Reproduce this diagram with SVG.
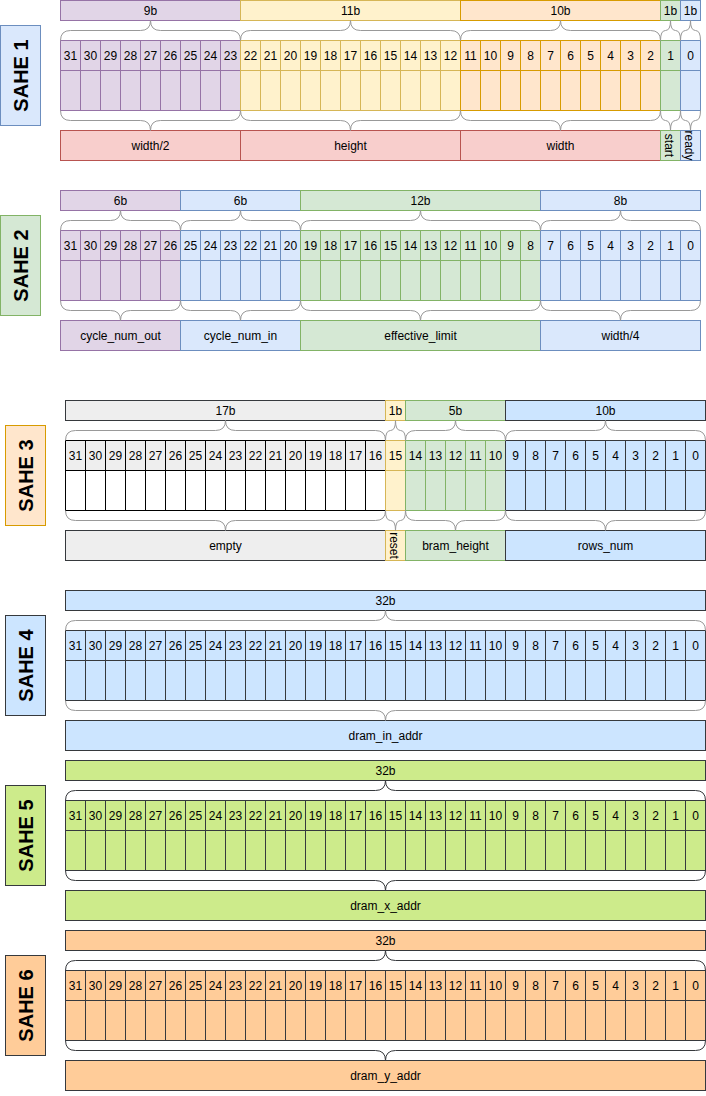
<svg xmlns="http://www.w3.org/2000/svg" width="706" height="1096" viewBox="0 0 706 1096">
<style>
.t{font-family:"Liberation Sans",Arial,Helvetica,sans-serif;font-size:12px;fill:#000;text-anchor:middle}
.lbl{font-family:"Liberation Sans",Arial,Helvetica,sans-serif;font-size:20px;font-weight:bold;fill:#000;text-anchor:middle}
.br{fill:none;stroke:#999999;stroke-width:1}
.brd{fill:none;stroke:#36393d;stroke-width:1}
.pu{fill:#e1d5e7;stroke:#9673a6}
.ye{fill:#fff2cc;stroke:#d6b656}
.or{fill:#ffe6cc;stroke:#d79b00}
.gr{fill:#d5e8d4;stroke:#82b366}
.bl{fill:#dae8fc;stroke:#6c8ebf}
.re{fill:#f8cecc;stroke:#b85450}
.gy{fill:#eeeeee;stroke:#36393d}
.gk{fill:#eeeeee;stroke:#000000}
.wh{fill:#ffffff;stroke:#000000}
.lb{fill:#cce5ff;stroke:#36393d}
.lg{fill:#cdeb8b;stroke:#36393d}
.pe{fill:#ffcc99;stroke:#36393d}
.ln{fill:none}
</style>
<g transform="translate(0.5,0.5)">

<!-- ================= SAHE 1 ================= -->
<g id="sahe1">
  <g id="sahe1-label">
    <rect class="bl" x="0" y="25" width="40" height="100"/>
    <text class="lbl" x="20" y="82" transform="rotate(-90 20 75)">SAHE 1</text>
  </g>
  <g id="sahe1-header">
    <rect class="pu" x="60" y="0" width="180" height="20"/>
    <rect class="ye" x="240" y="0" width="220" height="20"/>
    <rect class="or" x="460" y="0" width="200" height="20"/>
    <rect class="gr" x="660" y="0" width="20" height="20"/>
    <rect class="bl" x="680" y="0" width="20" height="20"/>
    <text class="t" x="150" y="14">9b</text>
    <text class="t" x="350" y="14">11b</text>
    <text class="t" x="560" y="14">10b</text>
    <text class="t" x="670" y="14">1b</text>
    <text class="t" x="690" y="14">1b</text>
  </g>
  <g id="sahe1-bits">
    <rect class="pu" x="60" y="40" width="180" height="30"/>
    <rect class="pu" x="60" y="70" width="180" height="40"/>
    <path class="pu ln" d="M80 40V110M100 40V110M120 40V110M140 40V110M160 40V110M180 40V110M200 40V110M220 40V110"/>
    <rect class="ye" x="240" y="40" width="220" height="30"/>
    <rect class="ye" x="240" y="70" width="220" height="40"/>
    <path class="ye ln" d="M260 40V110M280 40V110M300 40V110M320 40V110M340 40V110M360 40V110M380 40V110M400 40V110M420 40V110M440 40V110"/>
    <rect class="or" x="460" y="40" width="200" height="30"/>
    <rect class="or" x="460" y="70" width="200" height="40"/>
    <path class="or ln" d="M480 40V110M500 40V110M520 40V110M540 40V110M560 40V110M580 40V110M600 40V110M620 40V110M640 40V110"/>
    <rect class="gr" x="660" y="40" width="20" height="30"/>
    <rect class="gr" x="660" y="70" width="20" height="40"/>
    <rect class="bl" x="680" y="40" width="20" height="30"/>
    <rect class="bl" x="680" y="70" width="20" height="40"/>
    <text class="t" y="59"><tspan x="70">31</tspan><tspan x="90">30</tspan><tspan x="110">29</tspan><tspan x="130">28</tspan><tspan x="150">27</tspan><tspan x="170">26</tspan><tspan x="190">25</tspan><tspan x="210">24</tspan><tspan x="230">23</tspan><tspan x="250">22</tspan><tspan x="270">21</tspan><tspan x="290">20</tspan><tspan x="310">19</tspan><tspan x="330">18</tspan><tspan x="350">17</tspan><tspan x="370">16</tspan><tspan x="390">15</tspan><tspan x="410">14</tspan><tspan x="430">13</tspan><tspan x="450">12</tspan><tspan x="470">11</tspan><tspan x="490">10</tspan><tspan x="510">9</tspan><tspan x="530">8</tspan><tspan x="550">7</tspan><tspan x="570">6</tspan><tspan x="590">5</tspan><tspan x="610">4</tspan><tspan x="630">3</tspan><tspan x="650">2</tspan><tspan x="670">1</tspan><tspan x="690">0</tspan></text>
  </g>
  <g id="sahe1-fields">
    <rect class="re" x="60" y="130" width="180" height="30"/>
    <rect class="re" x="240" y="130" width="220" height="30"/>
    <rect class="re" x="460" y="130" width="200" height="30"/>
    <rect class="gr" x="660" y="130" width="20" height="30"/>
    <rect class="bl" x="680" y="130" width="20" height="30"/>
    <text class="t" x="150" y="149">width/2</text>
    <text class="t" x="350" y="149">height</text>
    <text class="t" x="560" y="149">width</text>
    <text class="t" x="670" y="151" transform="rotate(90 670 145)">start</text>
    <text class="t" x="690" y="151" transform="rotate(90 690 145)">ready</text>
  </g>
</g>

<!-- ================= SAHE 2 ================= -->
<g id="sahe2">
  <g id="sahe2-label">
    <rect class="gr" x="0" y="215" width="40" height="100"/>
    <text class="lbl" x="20" y="272" transform="rotate(-90 20 265)">SAHE 2</text>
  </g>
  <g id="sahe2-header">
    <rect class="pu" x="60" y="190" width="120" height="20"/>
    <rect class="bl" x="180" y="190" width="120" height="20"/>
    <rect class="gr" x="300" y="190" width="240" height="20"/>
    <rect class="bl" x="540" y="190" width="160" height="20"/>
    <text class="t" x="120" y="204">6b</text>
    <text class="t" x="240" y="204">6b</text>
    <text class="t" x="420" y="204">12b</text>
    <text class="t" x="620" y="204">8b</text>
  </g>
  <g id="sahe2-bits">
    <rect class="pu" x="60" y="230" width="120" height="30"/>
    <rect class="pu" x="60" y="260" width="120" height="40"/>
    <path class="pu ln" d="M80 230V300M100 230V300M120 230V300M140 230V300M160 230V300"/>
    <rect class="bl" x="180" y="230" width="120" height="30"/>
    <rect class="bl" x="180" y="260" width="120" height="40"/>
    <path class="bl ln" d="M200 230V300M220 230V300M240 230V300M260 230V300M280 230V300"/>
    <rect class="gr" x="300" y="230" width="240" height="30"/>
    <rect class="gr" x="300" y="260" width="240" height="40"/>
    <path class="gr ln" d="M320 230V300M340 230V300M360 230V300M380 230V300M400 230V300M420 230V300M440 230V300M460 230V300M480 230V300M500 230V300M520 230V300"/>
    <rect class="bl" x="540" y="230" width="160" height="30"/>
    <rect class="bl" x="540" y="260" width="160" height="40"/>
    <path class="bl ln" d="M560 230V300M580 230V300M600 230V300M620 230V300M640 230V300M660 230V300M680 230V300"/>
    <text class="t" y="249"><tspan x="70">31</tspan><tspan x="90">30</tspan><tspan x="110">29</tspan><tspan x="130">28</tspan><tspan x="150">27</tspan><tspan x="170">26</tspan><tspan x="190">25</tspan><tspan x="210">24</tspan><tspan x="230">23</tspan><tspan x="250">22</tspan><tspan x="270">21</tspan><tspan x="290">20</tspan><tspan x="310">19</tspan><tspan x="330">18</tspan><tspan x="350">17</tspan><tspan x="370">16</tspan><tspan x="390">15</tspan><tspan x="410">14</tspan><tspan x="430">13</tspan><tspan x="450">12</tspan><tspan x="470">11</tspan><tspan x="490">10</tspan><tspan x="510">9</tspan><tspan x="530">8</tspan><tspan x="550">7</tspan><tspan x="570">6</tspan><tspan x="590">5</tspan><tspan x="610">4</tspan><tspan x="630">3</tspan><tspan x="650">2</tspan><tspan x="670">1</tspan><tspan x="690">0</tspan></text>
  </g>
  <g id="sahe2-fields">
    <rect class="pu" x="60" y="320" width="120" height="30"/>
    <rect class="bl" x="180" y="320" width="120" height="30"/>
    <rect class="gr" x="300" y="320" width="240" height="30"/>
    <rect class="bl" x="540" y="320" width="160" height="30"/>
    <text class="t" x="120" y="339">cycle_num_out</text>
    <text class="t" x="240" y="339">cycle_num_in</text>
    <text class="t" x="420" y="339">effective_limit</text>
    <text class="t" x="620" y="339">width/4</text>
  </g>
</g>

<!-- ================= SAHE 3 ================= -->
<g id="sahe3">
  <g id="sahe3-label">
    <rect class="or" x="5" y="425" width="40" height="100"/>
    <text class="lbl" x="25" y="482" transform="rotate(-90 25 475)">SAHE 3</text>
  </g>
  <g id="sahe3-header">
    <rect class="gy" x="65" y="400" width="320" height="20"/>
    <rect class="ye" x="385" y="400" width="20" height="20"/>
    <rect class="gr" x="405" y="400" width="100" height="20"/>
    <rect class="lb" x="505" y="400" width="200" height="20"/>
    <text class="t" x="225" y="414">17b</text>
    <text class="t" x="395" y="414">1b</text>
    <text class="t" x="455" y="414">5b</text>
    <text class="t" x="605" y="414">10b</text>
  </g>
  <g id="sahe3-bits">
    <rect class="gk" x="65" y="440" width="320" height="30"/>
    <rect class="wh" x="65" y="470" width="320" height="40"/>
    <path class="wh ln" d="M85 440V510M105 440V510M125 440V510M145 440V510M165 440V510M185 440V510M205 440V510M225 440V510M245 440V510M265 440V510M285 440V510M305 440V510M325 440V510M345 440V510M365 440V510"/>
    <rect class="ye" x="385" y="440" width="20" height="30"/>
    <rect class="ye" x="385" y="470" width="20" height="40"/>
    <rect class="gr" x="405" y="440" width="100" height="30"/>
    <rect class="gr" x="405" y="470" width="100" height="40"/>
    <path class="gr ln" d="M425 440V510M445 440V510M465 440V510M485 440V510"/>
    <rect class="lb" x="505" y="440" width="200" height="30"/>
    <rect class="lb" x="505" y="470" width="200" height="40"/>
    <path class="lb ln" d="M525 440V510M545 440V510M565 440V510M585 440V510M605 440V510M625 440V510M645 440V510M665 440V510M685 440V510"/>
    <text class="t" y="459"><tspan x="75">31</tspan><tspan x="95">30</tspan><tspan x="115">29</tspan><tspan x="135">28</tspan><tspan x="155">27</tspan><tspan x="175">26</tspan><tspan x="195">25</tspan><tspan x="215">24</tspan><tspan x="235">23</tspan><tspan x="255">22</tspan><tspan x="275">21</tspan><tspan x="295">20</tspan><tspan x="315">19</tspan><tspan x="335">18</tspan><tspan x="355">17</tspan><tspan x="375">16</tspan><tspan x="395">15</tspan><tspan x="415">14</tspan><tspan x="435">13</tspan><tspan x="455">12</tspan><tspan x="475">11</tspan><tspan x="495">10</tspan><tspan x="515">9</tspan><tspan x="535">8</tspan><tspan x="555">7</tspan><tspan x="575">6</tspan><tspan x="595">5</tspan><tspan x="615">4</tspan><tspan x="635">3</tspan><tspan x="655">2</tspan><tspan x="675">1</tspan><tspan x="695">0</tspan></text>
  </g>
  <g id="sahe3-fields">
    <rect class="gy" x="65" y="530" width="320" height="30"/>
    <rect class="ye" x="385" y="530" width="20" height="30"/>
    <rect class="gr" x="405" y="530" width="100" height="30"/>
    <rect class="lb" x="505" y="530" width="200" height="30"/>
    <text class="t" x="225" y="549">empty</text>
    <text class="t" x="395" y="551" transform="rotate(90 395 545)">reset</text>
    <text class="t" x="455" y="549">bram_height</text>
    <text class="t" x="605" y="549">rows_num</text>
  </g>
</g>

<!-- ================= SAHE 4 ================= -->
<g id="sahe4">
  <g id="sahe4-label">
    <rect class="lb" x="5" y="615" width="40" height="100"/>
    <text class="lbl" x="25" y="672" transform="rotate(-90 25 665)">SAHE 4</text>
  </g>
  <g id="sahe4-header">
    <rect class="lb" x="65" y="590" width="640" height="20"/>
    <text class="t" x="385" y="604">32b</text>
  </g>
  <g id="sahe4-bits">
    <rect class="lb" x="65" y="630" width="640" height="30"/>
    <rect class="lb" x="65" y="660" width="640" height="40"/>
    <path class="lb ln" d="M85 630V700M105 630V700M125 630V700M145 630V700M165 630V700M185 630V700M205 630V700M225 630V700M245 630V700M265 630V700M285 630V700M305 630V700M325 630V700M345 630V700M365 630V700M385 630V700M405 630V700M425 630V700M445 630V700M465 630V700M485 630V700M505 630V700M525 630V700M545 630V700M565 630V700M585 630V700M605 630V700M625 630V700M645 630V700M665 630V700M685 630V700"/>
    <text class="t" y="649"><tspan x="75">31</tspan><tspan x="95">30</tspan><tspan x="115">29</tspan><tspan x="135">28</tspan><tspan x="155">27</tspan><tspan x="175">26</tspan><tspan x="195">25</tspan><tspan x="215">24</tspan><tspan x="235">23</tspan><tspan x="255">22</tspan><tspan x="275">21</tspan><tspan x="295">20</tspan><tspan x="315">19</tspan><tspan x="335">18</tspan><tspan x="355">17</tspan><tspan x="375">16</tspan><tspan x="395">15</tspan><tspan x="415">14</tspan><tspan x="435">13</tspan><tspan x="455">12</tspan><tspan x="475">11</tspan><tspan x="495">10</tspan><tspan x="515">9</tspan><tspan x="535">8</tspan><tspan x="555">7</tspan><tspan x="575">6</tspan><tspan x="595">5</tspan><tspan x="615">4</tspan><tspan x="635">3</tspan><tspan x="655">2</tspan><tspan x="675">1</tspan><tspan x="695">0</tspan></text>
  </g>
  <g id="sahe4-fields">
    <rect class="lb" x="65" y="720" width="640" height="30"/>
    <text class="t" x="385" y="739">dram_in_addr</text>
  </g>
</g>

<!-- ================= SAHE 5 ================= -->
<g id="sahe5">
  <g id="sahe5-label">
    <rect class="lg" x="5" y="785" width="40" height="100"/>
    <text class="lbl" x="25" y="842" transform="rotate(-90 25 835)">SAHE 5</text>
  </g>
  <g id="sahe5-header">
    <rect class="lg" x="65" y="760" width="640" height="20"/>
    <text class="t" x="385" y="774">32b</text>
  </g>
  <g id="sahe5-bits">
    <rect class="lg" x="65" y="800" width="640" height="30"/>
    <rect class="lg" x="65" y="830" width="640" height="40"/>
    <path class="lg ln" d="M85 800V870M105 800V870M125 800V870M145 800V870M165 800V870M185 800V870M205 800V870M225 800V870M245 800V870M265 800V870M285 800V870M305 800V870M325 800V870M345 800V870M365 800V870M385 800V870M405 800V870M425 800V870M445 800V870M465 800V870M485 800V870M505 800V870M525 800V870M545 800V870M565 800V870M585 800V870M605 800V870M625 800V870M645 800V870M665 800V870M685 800V870"/>
    <text class="t" y="819"><tspan x="75">31</tspan><tspan x="95">30</tspan><tspan x="115">29</tspan><tspan x="135">28</tspan><tspan x="155">27</tspan><tspan x="175">26</tspan><tspan x="195">25</tspan><tspan x="215">24</tspan><tspan x="235">23</tspan><tspan x="255">22</tspan><tspan x="275">21</tspan><tspan x="295">20</tspan><tspan x="315">19</tspan><tspan x="335">18</tspan><tspan x="355">17</tspan><tspan x="375">16</tspan><tspan x="395">15</tspan><tspan x="415">14</tspan><tspan x="435">13</tspan><tspan x="455">12</tspan><tspan x="475">11</tspan><tspan x="495">10</tspan><tspan x="515">9</tspan><tspan x="535">8</tspan><tspan x="555">7</tspan><tspan x="575">6</tspan><tspan x="595">5</tspan><tspan x="615">4</tspan><tspan x="635">3</tspan><tspan x="655">2</tspan><tspan x="675">1</tspan><tspan x="695">0</tspan></text>
  </g>
  <g id="sahe5-fields">
    <rect class="lg" x="65" y="890" width="640" height="30"/>
    <text class="t" x="385" y="909">dram_x_addr</text>
  </g>
</g>

<!-- ================= SAHE 6 ================= -->
<g id="sahe6">
  <g id="sahe6-label">
    <rect class="pe" x="5" y="955" width="40" height="100"/>
    <text class="lbl" x="25" y="1012" transform="rotate(-90 25 1005)">SAHE 6</text>
  </g>
  <g id="sahe6-header">
    <rect class="pe" x="65" y="930" width="640" height="20"/>
    <text class="t" x="385" y="944">32b</text>
  </g>
  <g id="sahe6-bits">
    <rect class="pe" x="65" y="970" width="640" height="30"/>
    <rect class="pe" x="65" y="1000" width="640" height="40"/>
    <path class="pe ln" d="M85 970V1040M105 970V1040M125 970V1040M145 970V1040M165 970V1040M185 970V1040M205 970V1040M225 970V1040M245 970V1040M265 970V1040M285 970V1040M305 970V1040M325 970V1040M345 970V1040M365 970V1040M385 970V1040M405 970V1040M425 970V1040M445 970V1040M465 970V1040M485 970V1040M505 970V1040M525 970V1040M545 970V1040M565 970V1040M585 970V1040M605 970V1040M625 970V1040M645 970V1040M665 970V1040M685 970V1040"/>
    <text class="t" y="989"><tspan x="75">31</tspan><tspan x="95">30</tspan><tspan x="115">29</tspan><tspan x="135">28</tspan><tspan x="155">27</tspan><tspan x="175">26</tspan><tspan x="195">25</tspan><tspan x="215">24</tspan><tspan x="235">23</tspan><tspan x="255">22</tspan><tspan x="275">21</tspan><tspan x="295">20</tspan><tspan x="315">19</tspan><tspan x="335">18</tspan><tspan x="355">17</tspan><tspan x="375">16</tspan><tspan x="395">15</tspan><tspan x="415">14</tspan><tspan x="435">13</tspan><tspan x="455">12</tspan><tspan x="475">11</tspan><tspan x="495">10</tspan><tspan x="515">9</tspan><tspan x="535">8</tspan><tspan x="555">7</tspan><tspan x="575">6</tspan><tspan x="595">5</tspan><tspan x="615">4</tspan><tspan x="635">3</tspan><tspan x="655">2</tspan><tspan x="675">1</tspan><tspan x="695">0</tspan></text>
  </g>
  <g id="sahe6-fields">
    <rect class="pe" x="65" y="1060" width="640" height="30"/>
    <text class="t" x="385" y="1079">dram_y_addr</text>
  </g>
</g>

<!-- ================= braces (connectors) ================= -->
<g id="connectors">
  <path class="br" d="M60 40Q60 30 70 30L140 30Q150 30 150 20Q150 30 160 30L230 30Q240 30 240 40"/>
  <path class="br" d="M240 40Q240 30 250 30L340 30Q350 30 350 20Q350 30 360 30L450 30Q460 30 460 40"/>
  <path class="br" d="M460 40Q460 30 470 30L550 30Q560 30 560 20Q560 30 570 30L650 30Q660 30 660 40"/>
  <path class="br" d="M660 40Q660 30 665 30Q670 30 670 20Q670 30 675 30Q680 30 680 40"/>
  <path class="br" d="M680 40Q680 30 685 30Q690 30 690 20Q690 30 695 30Q700 30 700 40"/>
  <path class="br" d="M60 110Q60 120 70 120L140 120Q150 120 150 130Q150 120 160 120L230 120Q240 120 240 110"/>
  <path class="br" d="M240 110Q240 120 250 120L340 120Q350 120 350 130Q350 120 360 120L450 120Q460 120 460 110"/>
  <path class="br" d="M460 110Q460 120 470 120L550 120Q560 120 560 130Q560 120 570 120L650 120Q660 120 660 110"/>
  <path class="br" d="M660 110Q660 120 665 120Q670 120 670 130Q670 120 675 120Q680 120 680 110"/>
  <path class="br" d="M680 110Q680 120 685 120Q690 120 690 130Q690 120 695 120Q700 120 700 110"/>

  <path class="br" d="M60 230Q60 220 70 220L110 220Q120 220 120 210Q120 220 130 220L170 220Q180 220 180 230"/>
  <path class="br" d="M180 230Q180 220 190 220L230 220Q240 220 240 210Q240 220 250 220L290 220Q300 220 300 230"/>
  <path class="br" d="M300 230Q300 220 310 220L410 220Q420 220 420 210Q420 220 430 220L530 220Q540 220 540 230"/>
  <path class="br" d="M540 230Q540 220 550 220L610 220Q620 220 620 210Q620 220 630 220L690 220Q700 220 700 230"/>
  <path class="br" d="M60 300Q60 310 70 310L110 310Q120 310 120 320Q120 310 130 310L170 310Q180 310 180 300"/>
  <path class="br" d="M180 300Q180 310 190 310L230 310Q240 310 240 320Q240 310 250 310L290 310Q300 310 300 300"/>
  <path class="br" d="M300 300Q300 310 310 310L410 310Q420 310 420 320Q420 310 430 310L530 310Q540 310 540 300"/>
  <path class="br" d="M540 300Q540 310 550 310L610 310Q620 310 620 320Q620 310 630 310L690 310Q700 310 700 300"/>

  <path class="br" d="M65 440Q65 430 75 430L215 430Q225 430 225 420Q225 430 235 430L375 430Q385 430 385 440"/>
  <path class="br" d="M385 440Q385 430 390 430Q395 430 395 420Q395 430 400 430Q405 430 405 440"/>
  <path class="br" d="M405 440Q405 430 415 430L445 430Q455 430 455 420Q455 430 465 430L495 430Q505 430 505 440"/>
  <path class="br" d="M505 440Q505 430 515 430L595 430Q605 430 605 420Q605 430 615 430L695 430Q705 430 705 440"/>
  <path class="br" d="M65 510Q65 520 75 520L215 520Q225 520 225 530Q225 520 235 520L375 520Q385 520 385 510"/>
  <path class="br" d="M385 510Q385 520 390 520Q395 520 395 530Q395 520 400 520Q405 520 405 510"/>
  <path class="br" d="M405 510Q405 520 415 520L445 520Q455 520 455 530Q455 520 465 520L495 520Q505 520 505 510"/>
  <path class="br" d="M505 510Q505 520 515 520L595 520Q605 520 605 530Q605 520 615 520L695 520Q705 520 705 510"/>

  <path class="br" d="M65 630Q65 620 75 620L375 620Q385 620 385 610Q385 620 395 620L695 620Q705 620 705 630"/>
  <path class="br" d="M65 700Q65 710 75 710L375 710Q385 710 385 720Q385 710 395 710L695 710Q705 710 705 700"/>

  <path class="brd" d="M65 800Q65 790 75 790L375 790Q385 790 385 780Q385 790 395 790L695 790Q705 790 705 800"/>
  <path class="brd" d="M65 870Q65 880 75 880L375 880Q385 880 385 890Q385 880 395 880L695 880Q705 880 705 870"/>

  <path class="brd" d="M65 970Q65 960 75 960L375 960Q385 960 385 950Q385 960 395 960L695 960Q705 960 705 970"/>
  <path class="brd" d="M65 1040Q65 1050 75 1050L375 1050Q385 1050 385 1060Q385 1050 395 1050L695 1050Q705 1050 705 1040"/>
</g>
</g>
</svg>
